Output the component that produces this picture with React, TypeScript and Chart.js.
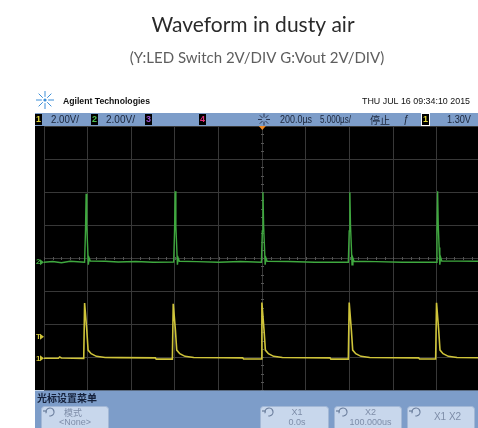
import { useEffect, useRef } from 'react';
import { Chart, registerables } from 'chart.js';
Chart.register(...registerables);

const titleText = 'Waveform in dusty air';
const subtitleText = '(Y:LED Switch 2V/DIV G:Vout 2V/DIV)';

// horizontal position in divisions (5.000µs/div), vertical in volts (2V/div)
const ch1Time = [
  0.0, 0.33, 0.36, 0.4, 0.91, 0.93, 0.98, 1.01, 1.08, 1.2, 1.4, 1.75, 2.55, 2.57,
  2.94, 2.96, 3.01, 3.04, 3.11, 3.23, 3.43, 4.1, 4.55, 4.57,
  4.97, 4.99, 5.04, 5.07, 5.14, 5.26, 5.46, 6.55, 6.57,
  6.97, 6.99, 7.04, 7.07, 7.14, 7.26, 7.46, 8.58, 8.6,
  8.97, 8.99, 9.04, 9.07, 9.14, 9.26, 9.46, 9.94,
];
const ch1Volts = [
  0.0, 0.0, 0.08, 0.02, 0.0, 3.35, 1.7, 0.5, 0.28, 0.12, 0.05, 0.04, 0.03, -0.05,
  -0.05, 3.3, 1.7, 0.5, 0.28, 0.12, 0.05, 0.03, 0.03, -0.04,
  -0.04, 3.38, 1.7, 0.5, 0.28, 0.12, 0.05, 0.03, -0.05,
  -0.05, 3.38, 1.7, 0.5, 0.28, 0.12, 0.05, 0.03, -0.04,
  -0.04, 3.36, 1.7, 0.5, 0.28, 0.12, 0.05, 0.03,
];
const ch2Time = [
  0.0, 0.2, 0.4, 0.6, 0.93, 0.95, 0.965, 0.98, 1.0, 1.015, 1.035, 1.06, 1.4, 1.7, 2.1, 2.5,
  2.97, 2.99, 3.005, 3.02, 3.04, 3.055, 3.075, 3.1, 3.5, 4.0, 4.5,
  4.98, 5.0, 5.015, 5.03, 5.05, 5.065, 5.085, 5.11, 5.6, 6.2,
  6.97, 6.99, 7.005, 7.02, 7.04, 7.055, 7.075, 7.1, 7.6, 8.2,
  8.98, 9.0, 9.015, 9.03, 9.05, 9.065, 9.085, 9.11, 9.5, 9.94,
];
const ch2Volts = [
  0.0, 0.05, -0.03, 0.06, 0.0, 1.9, 4.15, 2.2, 0.9, -0.15, 0.25, 0.08, 0.06, 0.02, 0.05, 0.0,
  0.02, 1.9, 4.3, 2.2, 0.9, -0.15, 0.25, 0.06, 0.04, 0.0, 0.05,
  0.0, 1.9, 4.25, 2.2, 0.9, -0.15, 0.25, 0.06, 0.05, 0.0,
  0.0, 1.9, 4.25, 2.2, 0.9, -0.15, 0.25, 0.06, 0.04, 0.0,
  0.0, 1.9, 4.3, 2.2, 0.9, -0.15, 0.3, 0.08, 0.07, 0.06,
];

const topBarLabels = ['2.00V/', '2.00V/', '200.0µs', '5.000µs/', '停止', '1.30V'];
const headerBrand = 'Agilent Technologies';
const headerDate = 'THU JUL 16 09:34:10 2015';
const menuTitle = '光标设置菜单';
const buttonLabels = [['模式', '<None>'], ['X1', '0.0s'], ['X2', '100.000us'], ['X1 X2']];

const BLUE = '#7d9dc9';
const GRID = '#383838';
const UIFONT = '"Liberation Sans", Arial, sans-serif';

function star(ctx: CanvasRenderingContext2D, cx: number, cy: number, r: number, color: string) {
  ctx.save();
  ctx.strokeStyle = color;
  ctx.lineWidth = 1;
  for (let i = 0; i < 8; i++) {
    const a = (i * Math.PI) / 4;
    ctx.beginPath();
    ctx.moveTo(cx + Math.cos(a) * r * 0.35, cy + Math.sin(a) * r * 0.35);
    ctx.lineTo(cx + Math.cos(a) * r, cy + Math.sin(a) * r);
    ctx.stroke();
  }
  ctx.restore();
}

function chBox(ctx: CanvasRenderingContext2D, x: number, y: number, label: string, color: string, border?: string) {
  ctx.fillStyle = '#000';
  ctx.fillRect(x, y, 7, 11);
  if (border) {
    ctx.strokeStyle = border;
    ctx.lineWidth = 1;
    ctx.strokeRect(x - 0.5, y - 0.5, 8, 12);
  }
  ctx.fillStyle = color;
  ctx.font = `bold 9px ${UIFONT}`;
  ctx.textAlign = 'center';
  ctx.textBaseline = 'middle';
  ctx.fillText(label, x + 3.5, y + 6);
}

function loopIcon(ctx: CanvasRenderingContext2D, cx: number, cy: number) {
  ctx.save();
  ctx.strokeStyle = '#6a7d9c';
  ctx.lineWidth = 1.2;
  ctx.beginPath();
  ctx.arc(cx, cy, 4, Math.PI * 0.9, Math.PI * 2.55);
  ctx.stroke();
  ctx.beginPath();
  ctx.moveTo(cx - 7, cy - 1);
  ctx.lineTo(cx - 3, cy - 1);
  ctx.stroke();
  ctx.restore();
}

function leftMarker(ctx: CanvasRenderingContext2D, y: number, label: string, color: string) {
  ctx.fillStyle = color;
  ctx.font = `bold 8px ${UIFONT}`;
  ctx.textAlign = 'left';
  ctx.textBaseline = 'middle';
  ctx.fillText(label, 36, y);
  ctx.beginPath();
  ctx.moveTo(40, y - 3);
  ctx.lineTo(44, y);
  ctx.lineTo(40, y + 3);
  ctx.closePath();
  ctx.fill();
}

const scopePlugin = {
  id: 'scopeUi',
  beforeDraw(chart: any) {
    const { ctx, width, height, chartArea: a } = chart;
    ctx.save();
    ctx.fillStyle = '#fff';
    ctx.fillRect(0, 0, width, height);
    ctx.fillStyle = '#000';
    ctx.fillRect(35, a.top, width - 35, a.bottom - a.top);
    ctx.restore();
  },
  beforeDatasetsDraw(chart: any) {
    const { ctx } = chart;
    const xs = chart.scales.x;
    const ys = chart.scales.y;
    const cx = Math.round(xs.getPixelForValue(5)) + 0.5;
    const cy = Math.round(ys.getPixelForValue(4)) + 0.5;
    ctx.save();
    ctx.strokeStyle = '#555555';
    ctx.lineWidth = 1;
    ctx.beginPath();
    for (let v = 0; v <= 8.001; v += 0.25) {
      const py = Math.round(ys.getPixelForValue(v)) + 0.5;
      ctx.moveTo(cx - 1.5, py);
      ctx.lineTo(cx + 1.5, py);
    }
    for (let v = 0; v <= 9.94; v += 0.2) {
      const px = Math.round(xs.getPixelForValue(v)) + 0.5;
      ctx.moveTo(px, cy - 1.5);
      ctx.lineTo(px, cy + 1.5);
    }
    ctx.stroke();
    ctx.restore();
  },
  afterDraw(chart: any) {
    const { ctx, width, height, chartArea: a } = chart;
    ctx.save();
    // titles
    ctx.textAlign = 'center';
    ctx.textBaseline = 'alphabetic';
    ctx.fillStyle = '#2a2a2a';
    ctx.font = '21px Lato, sans-serif';
    ctx.fillText(titleText, 253, 32);
    ctx.fillStyle = '#5e5e5e';
    ctx.font = '15px Lato, sans-serif';
    ctx.fillText(subtitleText, 257, 63);

    // scope header
    star(ctx, 45, 100, 9, '#3c8fd8');
    ctx.fillStyle = '#3c8fd8';
    ctx.beginPath();
    ctx.arc(45, 100, 1.6, 0, Math.PI * 2);
    ctx.fill();
    ctx.fillStyle = '#111';
    ctx.textAlign = 'left';
    ctx.textBaseline = 'middle';
    ctx.font = `bold 9px ${UIFONT}`;
    ctx.fillText(headerBrand, 63, 102, 87);
    ctx.font = `9px ${UIFONT}`;
    ctx.textAlign = 'right';
    ctx.fillText(headerDate, 470, 102, 108);

    // top status bar
    ctx.fillStyle = BLUE;
    ctx.fillRect(35, 113, width - 35, a.top - 113);
    chBox(ctx, 35, 114, '1', '#e0d63a');
    chBox(ctx, 91, 114, '2', '#4fc04f');
    chBox(ctx, 145, 114, '3', '#9a4fd0');
    chBox(ctx, 199, 114, '4', '#e0307a');
    chBox(ctx, 422, 114, '1', '#e0d63a', '#ffffff');
    star(ctx, 264, 119.5, 6, '#2a3550');
    ctx.fillStyle = '#1a2438';
    ctx.textAlign = 'left';
    ctx.textBaseline = 'middle';
    ctx.font = `10px ${UIFONT}`;
    ctx.fillText(topBarLabels[0], 51, 120, 28);
    ctx.fillText(topBarLabels[1], 106, 120, 29);
    ctx.fillText(topBarLabels[2], 280, 120, 32);
    ctx.fillText(topBarLabels[3], 320, 120, 31);
    ctx.font = '10px "Noto Sans CJK SC", sans-serif';
    ctx.fillText(topBarLabels[4], 370, 120, 20);
    ctx.font = `italic 10px ${UIFONT}`;
    ctx.fillText('ƒ', 403, 120);
    ctx.font = `10px ${UIFONT}`;
    ctx.fillText(topBarLabels[5], 447, 120, 24);

    // trigger position marker
    const tx = chart.scales.x.getPixelForValue(5);
    ctx.fillStyle = '#f08a24';
    ctx.beginPath();
    ctx.moveTo(tx - 3.5, a.top);
    ctx.lineTo(tx + 3.5, a.top);
    ctx.lineTo(tx, a.top + 4);
    ctx.closePath();
    ctx.fill();

    // channel markers on the left
    const y1 = chart.scales.y1;
    const y2 = chart.scales.y2;
    leftMarker(ctx, y2.getPixelForValue(0), '2', '#42a842');
    leftMarker(ctx, y1.getPixelForValue(1.3), 'T', '#cfc43a');
    leftMarker(ctx, y1.getPixelForValue(0), '1', '#cfc43a');

    // bottom menu panel
    ctx.fillStyle = BLUE;
    ctx.fillRect(35, a.bottom + 0.5, width - 35, height - a.bottom);
    ctx.fillStyle = '#14203a';
    ctx.font = 'bold 10px "Noto Sans CJK SC", sans-serif';
    ctx.textAlign = 'left';
    ctx.textBaseline = 'middle';
    ctx.fillText(menuTitle, 37, 398, 63);

    const btns = [[41, 108], [260, 328], [334, 401], [407, 474]];
    btns.forEach(([l, r], i) => {
      ctx.fillStyle = '#c8d7ec';
      ctx.strokeStyle = '#a3b8d6';
      ctx.lineWidth = 1;
      ctx.beginPath();
      ctx.roundRect(l + 0.5, 406.5, r - l, 30, 3);
      ctx.fill();
      ctx.stroke();
      loopIcon(ctx, l + 9, 412);
      const lbl = buttonLabels[i];
      const cxm = i === 0 ? l + 32 : (l + r) / 2 + 3;
      ctx.fillStyle = '#7e8da8';
      ctx.textAlign = 'center';
      if (lbl.length === 2) {
        ctx.font = i === 0 ? '9px "Noto Sans CJK SC", sans-serif' : `9px ${UIFONT}`;
        ctx.fillText(lbl[0], cxm, 413);
        ctx.font = `9px ${UIFONT}`;
        ctx.fillText(lbl[1], cxm + (i === 0 ? 2 : 0), 422.5, 46);
      } else {
        ctx.font = `10px ${UIFONT}`;
        ctx.fillText(lbl[0], cxm + 4, 417);
      }
    });
    ctx.restore();
  },
};

export default function App() {
  const ref = useRef<HTMLCanvasElement | null>(null);
  useEffect(() => {
    if (!ref.current) return;
    const chart = new Chart(ref.current, {
      type: 'line',
      data: {
        datasets: [
          {
            label: 'G: Vout',
            data: ch2Time.map((t, i) => ({ x: t, y: ch2Volts[i] })),
            borderColor: '#3fa83f',
            borderWidth: 1.4,
            pointRadius: 0,
            tension: 0,
            yAxisID: 'y2',
          },
          {
            label: 'Y: LED Switch',
            data: ch1Time.map((t, i) => ({ x: t, y: ch1Volts[i] })),
            borderColor: '#cfc43a',
            borderWidth: 1.6,
            pointRadius: 0,
            tension: 0,
            yAxisID: 'y1',
          },
        ],
      },
      options: {
        responsive: false,
        animation: false,
        events: [],
        layout: { padding: { left: 44, right: 0, top: 126, bottom: 38 } },
        plugins: {
          legend: { display: false },
          title: { display: false },
          tooltip: { enabled: false },
        },
        scales: {
          x: {
            type: 'linear',
            min: 0,
            max: 9.94,
            ticks: { display: false, stepSize: 1, includeBounds: false },
            grid: { color: GRID, drawTicks: false, lineWidth: 1 },
            border: { display: false },
          },
          y: {
            min: 0,
            max: 8,
            ticks: { display: false, stepSize: 1 },
            grid: { color: GRID, drawTicks: false, lineWidth: 1 },
            border: { display: false },
          },
          y1: { display: false, min: -1.92, max: 14.08 },
          y2: { display: false, min: -7.74, max: 8.26 },
        },
      },
      plugins: [scopePlugin],
    });
    return () => chart.destroy();
  }, []);
  return (
    <div style={{ position: 'absolute', left: 0, top: 0, width: 478, height: 428, overflow: 'hidden' }}>
      <canvas ref={ref} width={478} height={428} style={{ display: 'block' }} />
    </div>
  );
}
